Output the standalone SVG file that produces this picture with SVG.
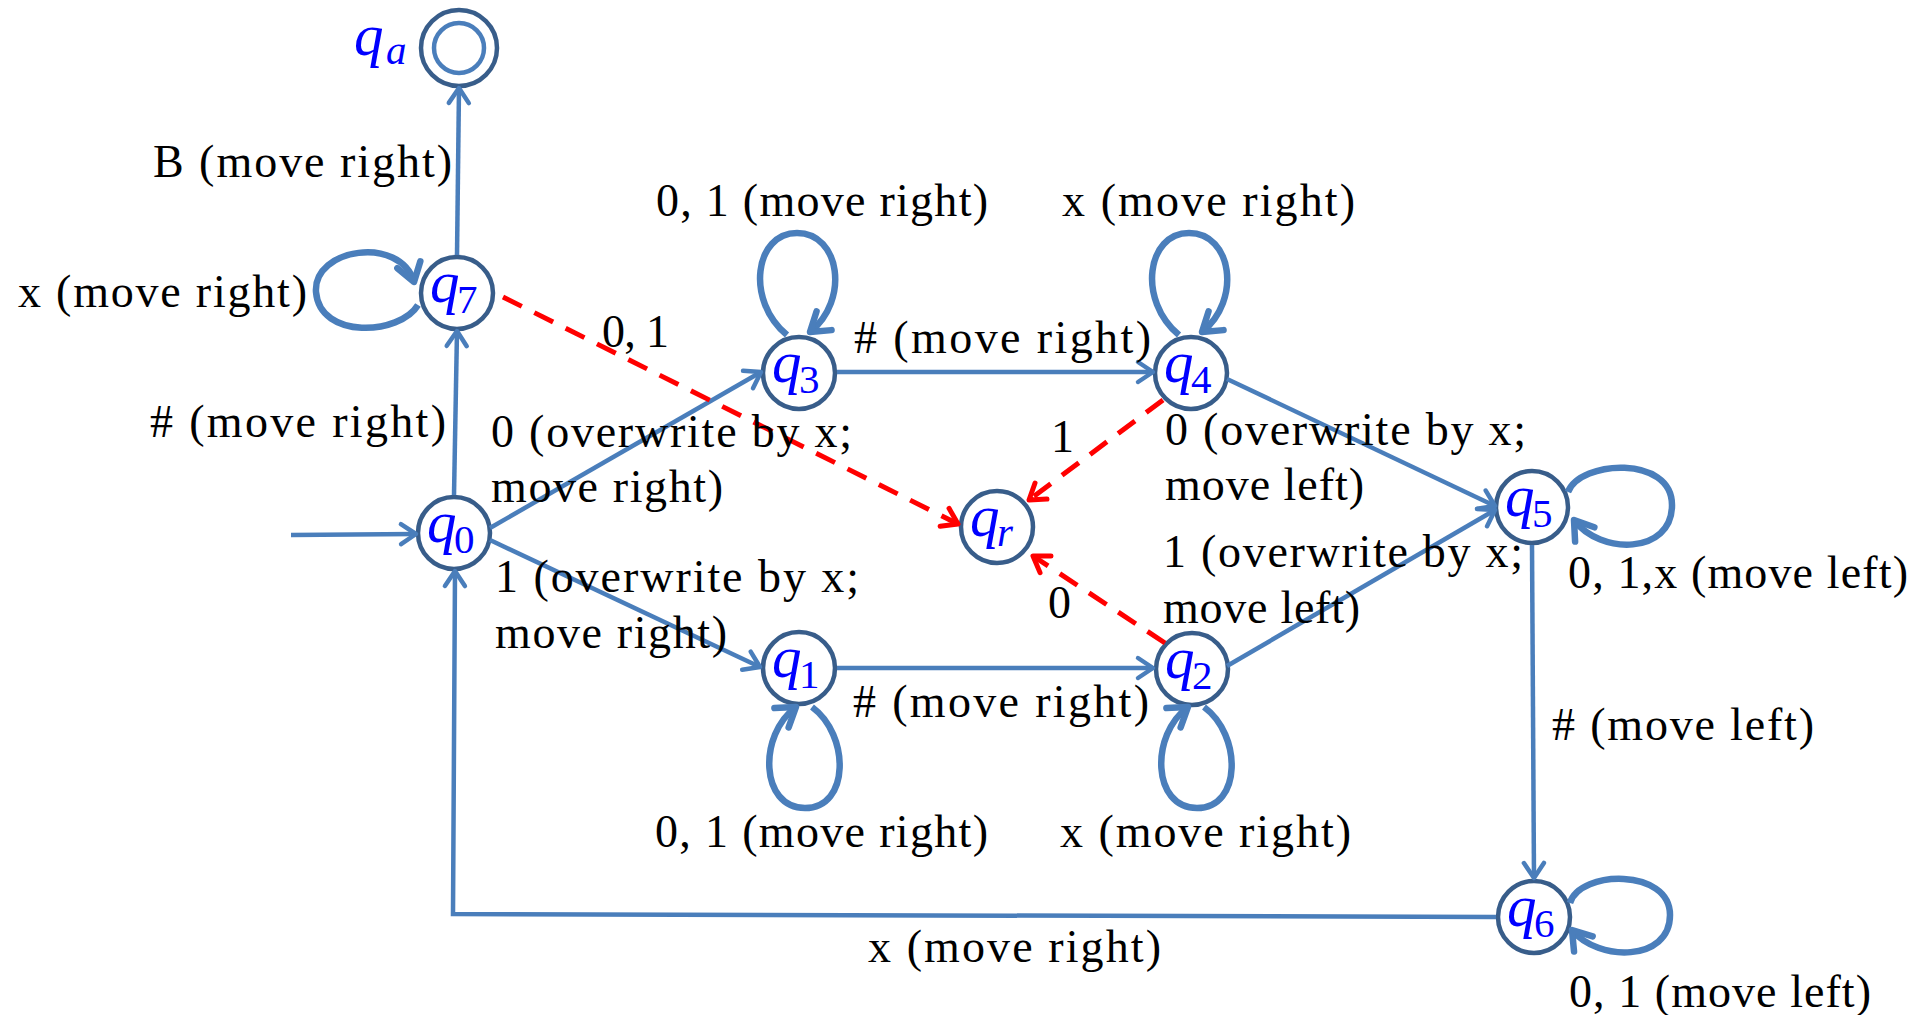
<svg xmlns="http://www.w3.org/2000/svg" width="1917" height="1015" viewBox="0 0 1917 1015">
<style>
.node{fill:#fff;stroke:#385D8A;stroke-width:4.5}
.nl{font-family:"Liberation Serif",serif;fill:#0000FF}
.qi{font-style:italic;font-size:59px}
.qs{font-size:41px}
.qsi{font-style:italic;font-size:41px}
.lbl{font-family:"Liberation Serif",serif;font-size:46px;fill:#000}
.e{fill:none;stroke:#4A7EBB;stroke-width:4.5;marker-end:url(#ab)}
.loop{fill:none;stroke:#4A7EBB;stroke-width:6.5;marker-end:url(#al)}
.d{fill:none;stroke:#FF0000;stroke-width:5;stroke-dasharray:21 14;marker-end:url(#ar)}
</style>
<defs>
<marker id="ab" markerUnits="userSpaceOnUse" markerWidth="40" markerHeight="40" viewBox="-20 -20 40 40" refX="0" refY="0" orient="auto" overflow="visible"><path d="M-15,-10 L0,0 L-15,10" fill="none" stroke="#4A7EBB" stroke-width="4.5" stroke-linecap="round" stroke-linejoin="round"/></marker>
<marker id="al" markerUnits="userSpaceOnUse" markerWidth="40" markerHeight="40" viewBox="-20 -20 40 40" refX="0" refY="0" orient="auto" overflow="visible"><path d="M-18,-12 L0,0 L-18,12" fill="none" stroke="#4A7EBB" stroke-width="6.5" stroke-linecap="round" stroke-linejoin="round"/></marker>
<marker id="ar" markerUnits="userSpaceOnUse" markerWidth="40" markerHeight="40" viewBox="-20 -20 40 40" refX="0" refY="0" orient="auto" overflow="visible"><path d="M-15,-10 L0,0 L-15,10" fill="none" stroke="#FF0000" stroke-width="5" stroke-linecap="round" stroke-linejoin="round"/></marker>
</defs>
<rect width="1917" height="1015" fill="#fff"/>

<g id="nodes">
<g id="qa"><circle class="node" cx="459" cy="48" r="38"/><circle cx="459" cy="48" r="25" fill="none" stroke="#4A7EBB" stroke-width="4.5"/><text class="nl"><tspan class="qi" x="354" y="55" font-size="62">q</tspan><tspan class="qsi" x="386" y="64">a</tspan></text></g>
<g id="q7"><circle class="node" cx="457" cy="293" r="36"/><text class="nl"><tspan class="qi" x="430" y="302">q</tspan><tspan class="qs" x="457" y="313">7</tspan></text></g>
<g id="q0"><circle class="node" cx="454" cy="533" r="36"/><text class="nl"><tspan class="qi" x="427" y="542">q</tspan><tspan class="qs" x="454" y="553">0</tspan></text></g>
<g id="q3"><circle class="node" cx="799" cy="373" r="36"/><text class="nl"><tspan class="qi" x="772" y="382">q</tspan><tspan class="qs" x="799" y="393">3</tspan></text></g>
<g id="q4"><circle class="node" cx="1191" cy="373" r="36"/><text class="nl"><tspan class="qi" x="1164" y="382">q</tspan><tspan class="qs" x="1191" y="393">4</tspan></text></g>
<g id="qr"><circle class="node" cx="997" cy="527" r="36"/><text class="nl"><tspan class="qi" x="970" y="536">q</tspan><tspan class="qsi" x="997" y="546">r</tspan></text></g>
<g id="q1"><circle class="node" cx="799" cy="668" r="36"/><text class="nl"><tspan class="qi" x="772" y="677">q</tspan><tspan class="qs" x="799" y="688">1</tspan></text></g>
<g id="q2"><circle class="node" cx="1192" cy="669" r="36"/><text class="nl"><tspan class="qi" x="1165" y="678">q</tspan><tspan class="qs" x="1192" y="689">2</tspan></text></g>
<g id="q5"><circle class="node" cx="1532" cy="507" r="36"/><text class="nl"><tspan class="qi" x="1505" y="516">q</tspan><tspan class="qs" x="1532" y="527">5</tspan></text></g>
<g id="q6"><circle class="node" cx="1534" cy="917" r="36"/><text class="nl"><tspan class="qi" x="1507" y="926">q</tspan><tspan class="qs" x="1534" y="937">6</tspan></text></g>
</g>

<g id="connectors">
<path class="e" d="M291 535 L416 534"/>
<path class="e" d="M454 495 L457 331"/>
<path class="e" d="M457 255 L459 88"/>
<path class="e" d="M490 528 L761 372"/>
<path class="e" d="M490 540 L760 667"/>
<path class="e" d="M837 668 L1153 668"/>
<path class="e" d="M837 372 L1153 372"/>
<path class="e" d="M1227 379 L1495 506"/>
<path class="e" d="M1227 666 L1495 510"/>
<path class="e" d="M1532 545 L1534 878"/>
<path class="e" d="M1496 917 L453 914 L455 571"/>
<path class="d" d="M503 297 L958 524"/>
<path class="d" d="M1163 400 L1029 500"/>
<path class="d" d="M1165 643 L1033 556"/>
<path class="loop" d="M418 305 C400 335 320 340 316 292 C313 248 400 235 414 282"/>
<path class="loop" d="M787 335 C745 300 755 233 797 233 C840 233 850 300 810 332"/>
<path class="loop" d="M1179 335 C1137 300 1147 233 1189 233 C1232 233 1242 300 1202 332"/>
<path class="loop" d="M812 707 C850 735 850 808 805 808 C760 808 758 735 796 707"/>
<path class="loop" d="M1204 707 C1242 735 1242 808 1197 808 C1152 808 1150 735 1188 707"/>
<path class="loop" d="M1568 492 C1580 460 1672 455 1672 505 C1672 555 1600 555 1574 520"/>
<path class="loop" d="M1570 903 C1580 870 1670 868 1670 915 C1670 962 1598 962 1572 930"/>
</g>

<g id="labels">
<text class="lbl" x="153" y="177" textLength="299" lengthAdjust="spacing">B (move right)</text>
<text class="lbl" x="18" y="307" textLength="289" lengthAdjust="spacing">x (move right)</text>
<text class="lbl" x="150" y="437" textLength="296" lengthAdjust="spacing"># (move right)</text>
<text class="lbl" x="602" y="347" textLength="67" lengthAdjust="spacing">0, 1</text>
<text class="lbl" x="656" y="216" textLength="332" lengthAdjust="spacing">0, 1 (move right)</text>
<text class="lbl" x="1062" y="216" textLength="293" lengthAdjust="spacing">x (move right)</text>
<text class="lbl" x="854" y="353" textLength="297" lengthAdjust="spacing"># (move right)</text>
<text class="lbl" x="491" y="447" textLength="361" lengthAdjust="spacing">0 (overwrite by x;</text>
<text class="lbl" x="491" y="502" textLength="232" lengthAdjust="spacing">move right)</text>
<text class="lbl" x="495" y="592" textLength="364" lengthAdjust="spacing">1 (overwrite by x;</text>
<text class="lbl" x="495" y="648" textLength="232" lengthAdjust="spacing">move right)</text>
<text class="lbl" x="1051" y="452">1</text>
<text class="lbl" x="1165" y="445" textLength="361" lengthAdjust="spacing">0 (overwrite by x;</text>
<text class="lbl" x="1165" y="500" textLength="199" lengthAdjust="spacing">move left)</text>
<text class="lbl" x="1163" y="567" textLength="360" lengthAdjust="spacing">1 (overwrite by x;</text>
<text class="lbl" x="1163" y="623" textLength="197" lengthAdjust="spacing">move left)</text>
<text class="lbl" x="1048" y="618">0</text>
<text class="lbl" x="1568" y="588" textLength="340" lengthAdjust="spacing">0, 1,x (move left)</text>
<text class="lbl" x="1552" y="740" textLength="262" lengthAdjust="spacing"># (move left)</text>
<text class="lbl" x="853" y="717" textLength="296" lengthAdjust="spacing"># (move right)</text>
<text class="lbl" x="655" y="847" textLength="333" lengthAdjust="spacing">0, 1 (move right)</text>
<text class="lbl" x="1060" y="847" textLength="291" lengthAdjust="spacing">x (move right)</text>
<text class="lbl" x="868" y="962" textLength="293" lengthAdjust="spacing">x (move right)</text>
<text class="lbl" x="1569" y="1007" textLength="302" lengthAdjust="spacing">0, 1 (move left)</text>
</g>
</svg>
